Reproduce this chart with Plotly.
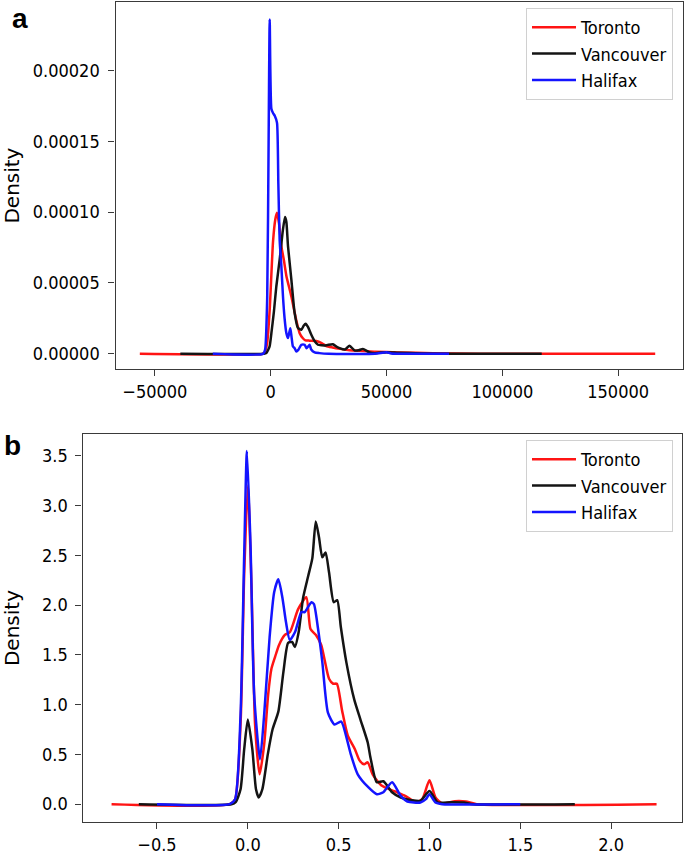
import plotly.graph_objects as go

# ---------------- Panel a data ----------------
a_tor_x = [-56500, -3500, -2600, -1500, -400, 1000, 2000, 2700, 3600, 4600, 5700, 6800, 8900, 11000,
           12500, 13900, 15000, 16800, 19700, 22000, 24000, 26700, 30000, 34000, 40000, 45000, 55000,
           70000, 90000, 166000]
a_tor_y = [0, 0, 0.000001, 0.000008, 0.000032, 0.000079, 0.000095, 0.0000996, 0.000092, 0.000076,
           0.000066, 0.0000548, 0.0000406, 0.000024, 0.0000146, 0.0000110, 0.0000095, 0.0000093,
           0.0000090, 0.0000075, 0.0000055, 0.0000045, 0.0000035, 0.0000025, 0.000002, 0.0000015,
           0.000001, 0.0000005, 0, 0]

a_van_x = [-39000, -3000, -1900, -500, 300, 1400, 2440, 3880, 5300, 6170, 6770, 7470, 8920, 10340,
           11770, 13230, 14300, 15090, 16080, 17540, 18960, 20390, 22000, 23270, 24500, 26850, 28500,
           29740, 32000, 34050, 36200, 38000, 39780, 42670, 45000, 50000, 55000, 65000, 80000, 117000]
a_van_y = [0, 0, 0.0000005, 0.000005, 0.0000146, 0.000030, 0.0000477, 0.0000666, 0.0000878, 0.0000965,
           0.000093, 0.000076, 0.0000524, 0.0000288, 0.0000182, 0.0000170, 0.000020, 0.0000212,
           0.000019, 0.0000135, 0.000009, 0.0000064, 0.0000060, 0.0000059, 0.0000062, 0.0000068,
           0.000005, 0.000004, 0.000003, 0.0000057, 0.0000024, 0.0000025, 0.0000035, 0.000001,
           0.0000005, 0.0000012, 0.0000008, 0.0000003, 0, 0]

a_hal_x = [-25000, -3300, -2400, -1500, -900, -430, 290, 1000, 1750, 2730, 3300, 3880, 4600, 5300,
           6000, 6770, 7470, 7900, 8480, 9000, 9600, 10340, 11060, 12000, 13230, 14650, 15500, 16080,
           16810, 17500, 18960, 21000, 25000, 45000, 50000, 52000, 60000, 77000]
a_hal_y = [0, 0, 0.000003, 0.00004, 0.00015, 0.000236, 0.000173, 0.000170, 0.000168, 0.000163,
           0.00012, 0.000080, 0.000062, 0.0000406, 0.000025, 0.0000146, 0.0000111, 0.000014,
           0.000018, 0.000012, 0.0000052, 0.000004, 0.0000017, 0.000003, 0.0000064, 0.0000064,
           0.000004, 0.000005, 0.0000064, 0.000003, 0.000001, 0.0000005, 0, 0, 0.0000012,
           0.0000003, 0, 0]

a_xtick_vals = [-50000, 0, 50000, 100000, 150000]
a_xtick_text = ["\u221250000", "0", "50000", "100000", "150000"]
a_ytick_vals = [0, 0.00005, 0.00010, 0.00015, 0.00020]
a_ytick_text = ["0.00000", "0.00005", "0.00010", "0.00015", "0.00020"]

# ---------------- Panel b data ----------------
b_tor_x = [-0.75, -0.10, -0.07, -0.04, -0.02, 0.0, 0.02, 0.04, 0.065, 0.09, 0.112, 0.13, 0.15, 0.172,
           0.204, 0.232, 0.277, 0.322, 0.345, 0.375, 0.404, 0.447, 0.47, 0.49, 0.519, 0.55, 0.59,
           0.615, 0.64, 0.66, 0.687, 0.734, 0.806, 0.866, 0.926, 0.96, 1.0, 1.033, 1.07, 1.14, 1.2,
           1.26, 2.25]
b_tor_y = [0, 0, 0.05, 0.8, 2.3, 3.2, 2.2, 0.8, 0.3, 0.6, 1.1, 1.36, 1.48, 1.6, 1.70, 1.73, 1.96,
           2.08, 1.76, 1.70, 1.60, 1.26, 1.21, 1.21, 0.94, 0.69, 0.55, 0.44, 0.40, 0.42, 0.3, 0.19,
           0.13, 0.083, 0.02, 0.05, 0.24, 0.067, 0.007, 0.03, 0.027, 0, 0]

b_van_x = [-0.6, -0.09, -0.067, -0.04, -0.02, 0.0, 0.025, 0.045, 0.06, 0.08, 0.11, 0.136, 0.168,
           0.196, 0.222, 0.244, 0.259, 0.28, 0.304, 0.332, 0.355, 0.374, 0.392, 0.41, 0.428, 0.447,
           0.473, 0.492, 0.512, 0.543, 0.586, 0.62, 0.66, 0.675, 0.71, 0.746, 0.794, 0.842, 0.9,
           0.95, 1.0, 1.045, 1.12, 1.19, 1.24, 1.8]
b_van_y = [0, 0, 0.02, 0.15, 0.55, 0.85, 0.55, 0.15, 0.067, 0.15, 0.5, 0.75, 0.93, 1.33, 1.62,
           1.63, 1.58, 1.73, 2.07, 2.29, 2.47, 2.84, 2.68, 2.48, 2.53, 2.33, 2.03, 2.05, 1.78, 1.42,
           1.05, 0.85, 0.62, 0.47, 0.22, 0.23, 0.12, 0.067, 0.04, 0.033, 0.133, 0.017, 0.02,
           0.017, 0, 0]

b_hal_x = [-0.5, -0.10, -0.07, -0.04, -0.02, -0.005, 0.015, 0.035, 0.067, 0.09, 0.12, 0.145, 0.168,
           0.19, 0.21, 0.231, 0.26, 0.295, 0.313, 0.35, 0.364, 0.386, 0.41, 0.441, 0.477, 0.514,
           0.55, 0.567, 0.605, 0.663, 0.71, 0.746, 0.794, 0.842, 0.878, 0.95, 0.98, 1.0, 1.033,
           1.07, 1.5]
b_hal_y = [0, 0, 0.05, 0.9, 2.5, 3.55, 2.6, 1.1, 0.45, 0.9, 1.68, 2.13, 2.26, 2.08, 1.83, 1.65,
           1.73, 1.93, 1.93, 2.03, 2.01, 1.77, 1.43, 0.92, 0.80, 0.83, 0.62, 0.5, 0.30, 0.17, 0.1,
           0.12, 0.22, 0.083, 0.027, 0.017, 0.05, 0.1, 0.017, 0, 0]

b_xtick_vals = [-0.5, 0.0, 0.5, 1.0, 1.5, 2.0]
b_xtick_text = ["\u22120.5", "0.0", "0.5", "1.0", "1.5", "2.0"]
b_ytick_vals = [0.0, 0.5, 1.0, 1.5, 2.0, 2.5, 3.0, 3.5]
b_ytick_text = ["0.0", "0.5", "1.0", "1.5", "2.0", "2.5", "3.0", "3.5"]

cities = ["Toronto", "Vancouver", "Halifax"]
colors = ["#ff1414", "#141414", "#1414ff"]

W, H = 685, 855
FONT_FAMILY = "DejaVu Sans Condensed, DejaVu Sans, sans-serif"
TICK_FONT = dict(family=FONT_FAMILY, size=18, color="black")
TITLE_FONT = dict(family="DejaVu Sans, sans-serif", size=20, color="black")

fig = go.Figure()

a_series = [(a_tor_x, a_tor_y), (a_van_x, a_van_y), (a_hal_x, a_hal_y)]
b_series = [(b_tor_x, b_tor_y), (b_van_x, b_van_y), (b_hal_x, b_hal_y)]

for name, col, (xs, ys) in zip(cities, colors, a_series):
    fig.add_trace(go.Scatter(x=xs, y=ys, mode="lines", name=name, xaxis="x", yaxis="y",
                             line=dict(color=col, width=2.5, shape="spline", smoothing=0.5),
                             legend="legend"))
for name, col, (xs, ys) in zip(cities, colors, b_series):
    fig.add_trace(go.Scatter(x=xs, y=ys, mode="lines", name=name, xaxis="x2", yaxis="y2",
                             line=dict(color=col, width=2.5, shape="spline", smoothing=0.6),
                             legend="legend2"))

axis_common = dict(showgrid=False, zeroline=False, showline=True, mirror=True,
                   linecolor="#3a3a3a", linewidth=1.4, ticks="outside", ticklen=6,
                   tickcolor="#3a3a3a", tickwidth=1.3, tickfont=TICK_FONT)

legend_common = dict(font=dict(family=FONT_FAMILY, size=18, color="black"),
                     bgcolor="white", bordercolor="#d0d0d0", borderwidth=1,
                     xanchor="right", yanchor="top", itemwidth=44, tracegroupgap=0)

fig.update_layout(
    width=W, height=H,
    margin=dict(l=0, r=0, t=0, b=0),
    paper_bgcolor="white", plot_bgcolor="white",
    xaxis=dict(domain=[115.5 / W, 683 / W], range=[-67000, 178000], anchor="y",
               tickvals=a_xtick_vals, ticktext=a_xtick_text, **axis_common),
    yaxis=dict(domain=[1 - 370 / H, 1 - 2 / H], range=[-0.0000108, 0.0002483], anchor="x",
               tickvals=a_ytick_vals, ticktext=a_ytick_text, ticklabelstandoff=5,
               title=dict(text="Density", font=TITLE_FONT, standoff=12),
               **axis_common),
    xaxis2=dict(domain=[82.5 / W, 682 / W], range=[-0.91, 2.39], anchor="y2",
                tickvals=b_xtick_vals, ticktext=b_xtick_text, **axis_common),
    yaxis2=dict(domain=[1 - 824 / H, 1 - 435 / H], range=[-0.18, 3.72], anchor="x2",
                tickvals=b_ytick_vals, ticktext=b_ytick_text, ticklabelstandoff=4,
                title=dict(text="Density", font=TITLE_FONT, standoff=17),
                **axis_common),
    legend=dict(x=673 / W, y=1 - 8 / H, **legend_common),
    legend2=dict(x=673 / W, y=1 - 441 / H, **legend_common),
    showlegend=True,
    annotations=[
        dict(text="<b>a</b>", x=19.5 / W, y=1 - 19 / H, xref="paper", yref="paper",
             showarrow=False, xanchor="center", yanchor="middle",
             font=dict(family="Liberation Sans, Arial, sans-serif", size=28, color="black")),
        dict(text="<b>b</b>", x=12 / W, y=1 - 447 / H, xref="paper", yref="paper",
             showarrow=False, xanchor="center", yanchor="middle",
             font=dict(family="Liberation Sans, Arial, sans-serif", size=28, color="black")),
    ],
)

fig.write_html(
    "out.html",
    config={"displayModeBar": False},
    post_script="document.body.style.margin='0';document.body.style.padding='0';"
                "document.body.style.overflow='hidden';",
)
